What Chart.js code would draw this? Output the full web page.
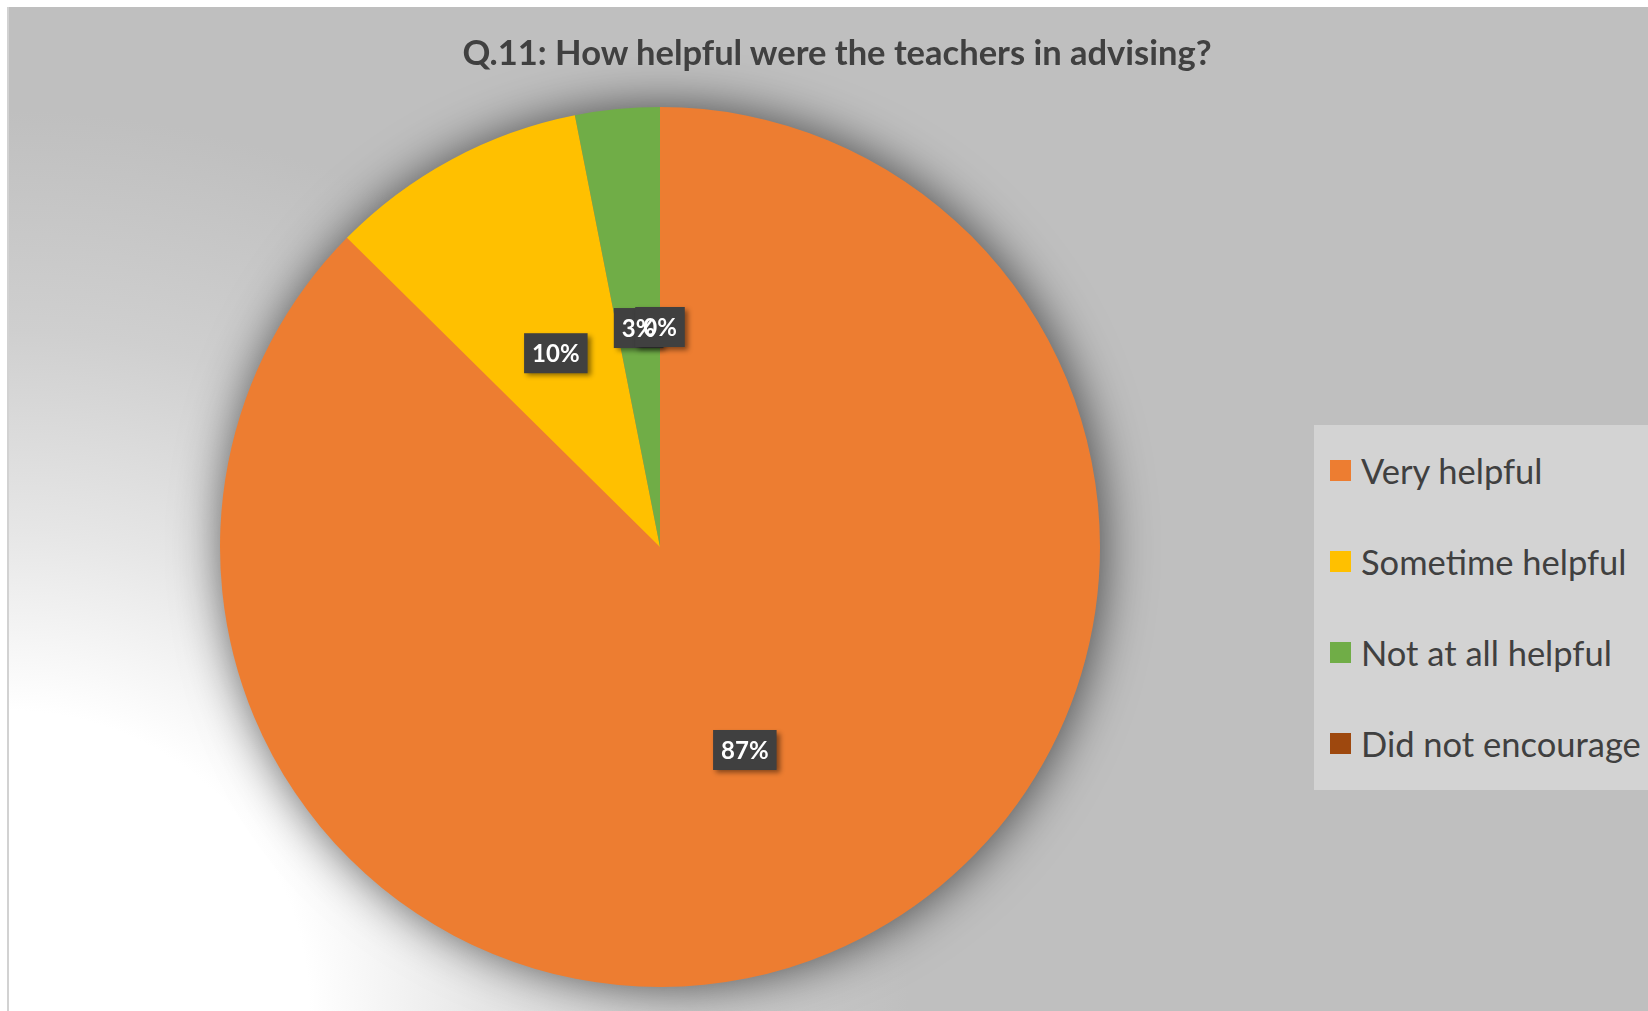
<!DOCTYPE html>
<html>
<head>
<meta charset="utf-8">
<script src="https://cdn.jsdelivr.net/npm/chart.js@4/dist/chart.umd.min.js"></script>
<style>
  html, body { margin: 0; padding: 0; background: #ffffff; }
  #wrap { position: relative; width: 1648px; height: 1011px; overflow: hidden; background: #ffffff; }
  #bg { position: absolute; left: 9px; top: 7px; width: 1639px; height: 1004px;
        background: radial-gradient(circle at 0px 1004px, #ffffff 0px, #ffffff 300px, #e6e6e6 480px, #cfcfcf 680px, #bfbfbf 900px); }
  #edge { position: absolute; left: 7px; top: 7px; width: 2px; height: 1004px; background: #d2d2d2; }
  #c { position: absolute; left: 0; top: 0; }
  #title { position: absolute; left: 837px; top: 51px; transform: translate(-50%, -50%);
           font-family: Lato, "Open Sans", sans-serif; font-weight: bold; font-size: 34.5px; color: #404040; white-space: nowrap; }
  #legend { position: absolute; left: 1314px; top: 425px; width: 334px; height: 365px; background: #d3d3d3; }
  .item { position: absolute; left: 16px; height: 40px; display: flex; align-items: center; white-space: nowrap;
          font-family: Lato, "Open Sans", sans-serif; font-size: 34.5px; color: #404040; }
  .sw { width: 21px; height: 21px; margin-right: 10px; }
</style>
</head>
<body>
<div id="wrap">
  <div id="bg"></div>
  <div id="edge"></div>
  <canvas id="c" width="1648" height="1011"></canvas>
  <div id="title"></div>
  <div id="legend"></div>
</div>
<script>
const titleText = "Q.11: How helpful were the teachers in advising?";
const categories = ["Very helpful", "Sometime helpful", "Not at all helpful", "Did not encourage"];
const shareValues = [87.4, 9.5, 3.1, 0];
const percentLabels = ["87%", "10%", "3%", "0%"];
const sliceColors = ["#ED7D31", "#FFC000", "#70AD47", "#9E480E"];

document.getElementById('title').textContent = titleText;

const legendEl = document.getElementById('legend');
const itemCenters = [45, 136, 227, 318];
categories.forEach((c, i) => {
  const d = document.createElement('div');
  d.className = 'item';
  d.style.top = (itemCenters[i] - 20) + 'px';
  const s = document.createElement('div');
  s.className = 'sw';
  s.style.background = sliceColors[i];
  const t = document.createElement('span');
  t.textContent = c;
  d.appendChild(s); d.appendChild(t);
  legendEl.appendChild(d);
});

const pieShadow = {
  id: 'pieShadow',
  beforeDatasetsDraw(chart) {
    const meta = chart.getDatasetMeta(0);
    const el = meta.data[0];
    if (!el) return;
    const p = el.getProps(['x', 'y', 'outerRadius'], true);
    const ctx = chart.ctx;
    ctx.save();
    ctx.shadowColor = 'rgba(0,0,0,0.65)';
    ctx.shadowBlur = 50;
    ctx.shadowOffsetX = 3;
    ctx.shadowOffsetY = 0;
    ctx.fillStyle = sliceColors[0];
    ctx.beginPath();
    ctx.arc(p.x, p.y, p.outerRadius - 1, 0, Math.PI * 2);
    ctx.fill();
    ctx.restore();
  }
};

const dataLabels = {
  id: 'dataLabels',
  afterDatasetsDraw(chart) {
    const ctx = chart.ctx;
    const meta = chart.getDatasetMeta(0);
    ctx.save();
    ctx.font = 'bold 24px Lato, "Open Sans", sans-serif';
    ctx.textAlign = 'center';
    ctx.textBaseline = 'middle';
    const spots = meta.data.map((el, i) => {
      const p = el.getProps(['x', 'y', 'startAngle', 'endAngle', 'outerRadius'], true);
      const mid = (p.startAngle + p.endAngle) / 2;
      const r = p.outerRadius * 0.5;
      return { x: p.x + Math.cos(mid) * r, y: p.y + Math.sin(mid) * r, txt: percentLabels[i] };
    });
    spots.forEach(s => {
      const w = ctx.measureText(s.txt).width + 16;
      const h = 40;
      ctx.save();
      ctx.shadowColor = 'rgba(0,0,0,0.45)';
      ctx.shadowBlur = 5;
      ctx.shadowOffsetX = 3;
      ctx.shadowOffsetY = 3;
      ctx.fillStyle = '#404040';
      ctx.fillRect(s.x - w / 2, s.y - h / 2, w, h);
      ctx.restore();
    });
    ctx.fillStyle = '#ffffff';
    spots.forEach(s => ctx.fillText(s.txt, s.x, s.y + 1));
    ctx.restore();
  }
};

new Chart(document.getElementById('c'), {
  type: 'pie',
  data: {
    labels: categories,
    datasets: [{
      data: shareValues,
      backgroundColor: sliceColors,
      borderWidth: 0,
      hoverOffset: 0
    }]
  },
  options: {
    responsive: false,
    animation: false,
    layout: { padding: { left: 220, right: 548, top: 107, bottom: 24 } },
    plugins: {
      legend: { display: false },
      title: { display: false },
      tooltip: { enabled: false }
    }
  },
  plugins: [pieShadow, dataLabels]
});
</script>
</body>
</html>
